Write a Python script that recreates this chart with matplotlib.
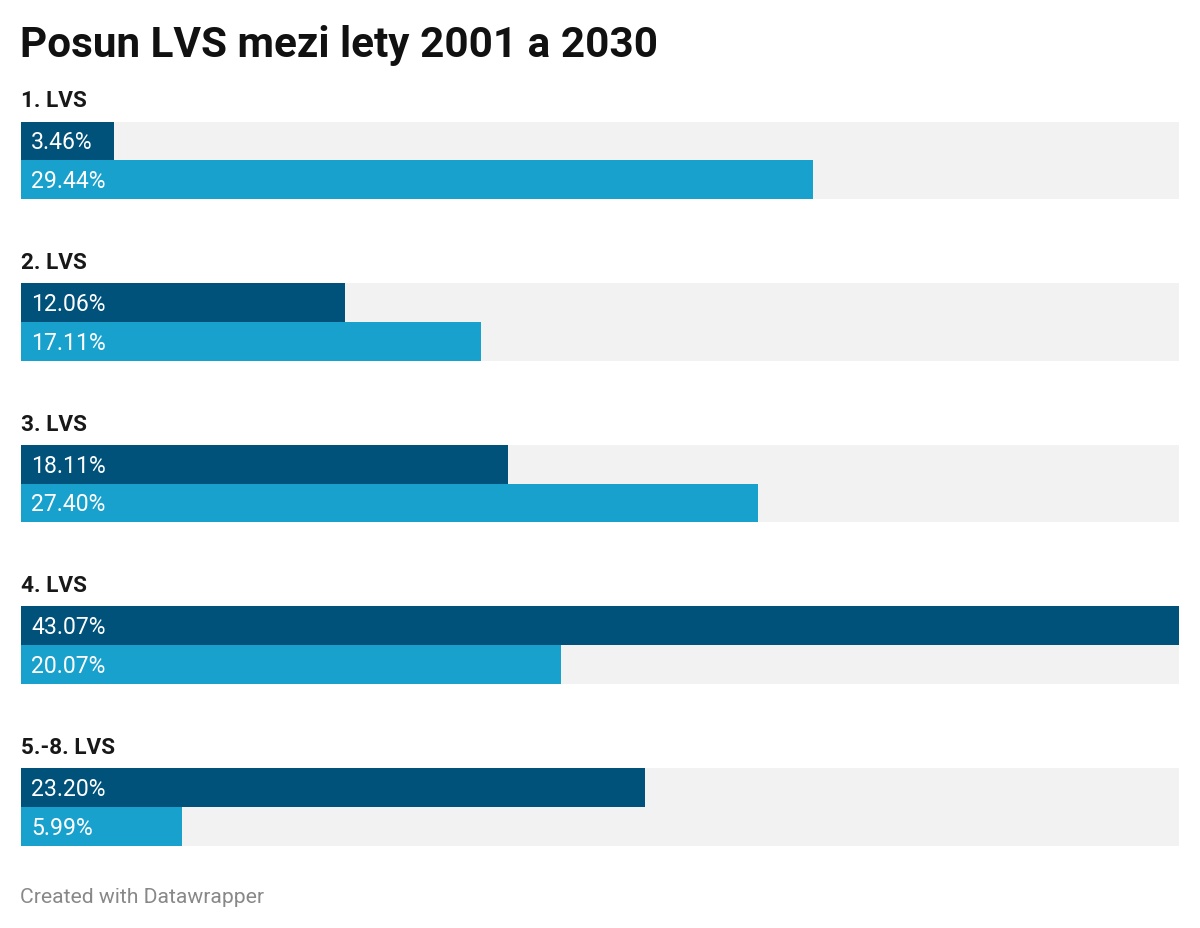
import matplotlib.pyplot as plt

plt.rcParams['font.family'] = ['Roboto', 'DejaVu Sans']

groups = ["1. LVS", "2. LVS", "3. LVS", "4. LVS", "5.-8. LVS"]
share_2001 = [3.46, 12.06, 18.11, 43.07, 23.20]
share_2030 = [29.44, 17.11, 27.40, 20.07, 5.99]

dark = "#00527a"
light = "#19a1cd"
gray = "#f2f2f2"

fig = plt.figure(figsize=(12, 9.29), dpi=100)
W, H = 1200, 929
# axes from the first bar top to the last bar bottom
ax = fig.add_axes([21 / W, 1 - 846.5 / H, 1158 / W, 724 / H])

bh = 0.24
xmax = max(max(share_2001), max(share_2030))
for i, g in enumerate(groups):
    ax.barh(i + bh, xmax, height=2 * bh, color=gray, linewidth=0)
    ax.barh(i + bh / 2, share_2001[i], height=bh, color=dark, linewidth=0)
    ax.barh(i + 1.5 * bh, share_2030[i], height=bh, color=light, linewidth=0)
    ax.text(0, i - 0.13, g, fontsize=16.2, fontweight='bold', color='#181818',
            va='center', ha='left', clip_on=False)
    ax.annotate(f"{share_2001[i]:.2f}%", (0, i + bh / 2), xytext=(10, -1),
                textcoords='offset pixels', color='white', fontsize=16.6,
                va='center', ha='left')
    ax.annotate(f"{share_2030[i]:.2f}%", (0, i + 1.5 * bh), xytext=(10, -1),
                textcoords='offset pixels', color='white', fontsize=16.6,
                va='center', ha='left')

ax.set_xlim(0, xmax)
ax.set_ylim(len(groups) - 1 + 2 * bh, 0)
ax.axis('off')

fig.text(20 / W, 1 - 46 / H, "Posun LVS mezi lety 2001 a 2030", fontsize=30.4,
         fontweight='bold', color='#111111', va='center', ha='left')
fig.text(20 / W, 1 - 898 / H, "Created with Datawrapper", fontsize=15.2,
         color='#888888', va='center', ha='left')

fig.savefig("out.png", facecolor='white')
